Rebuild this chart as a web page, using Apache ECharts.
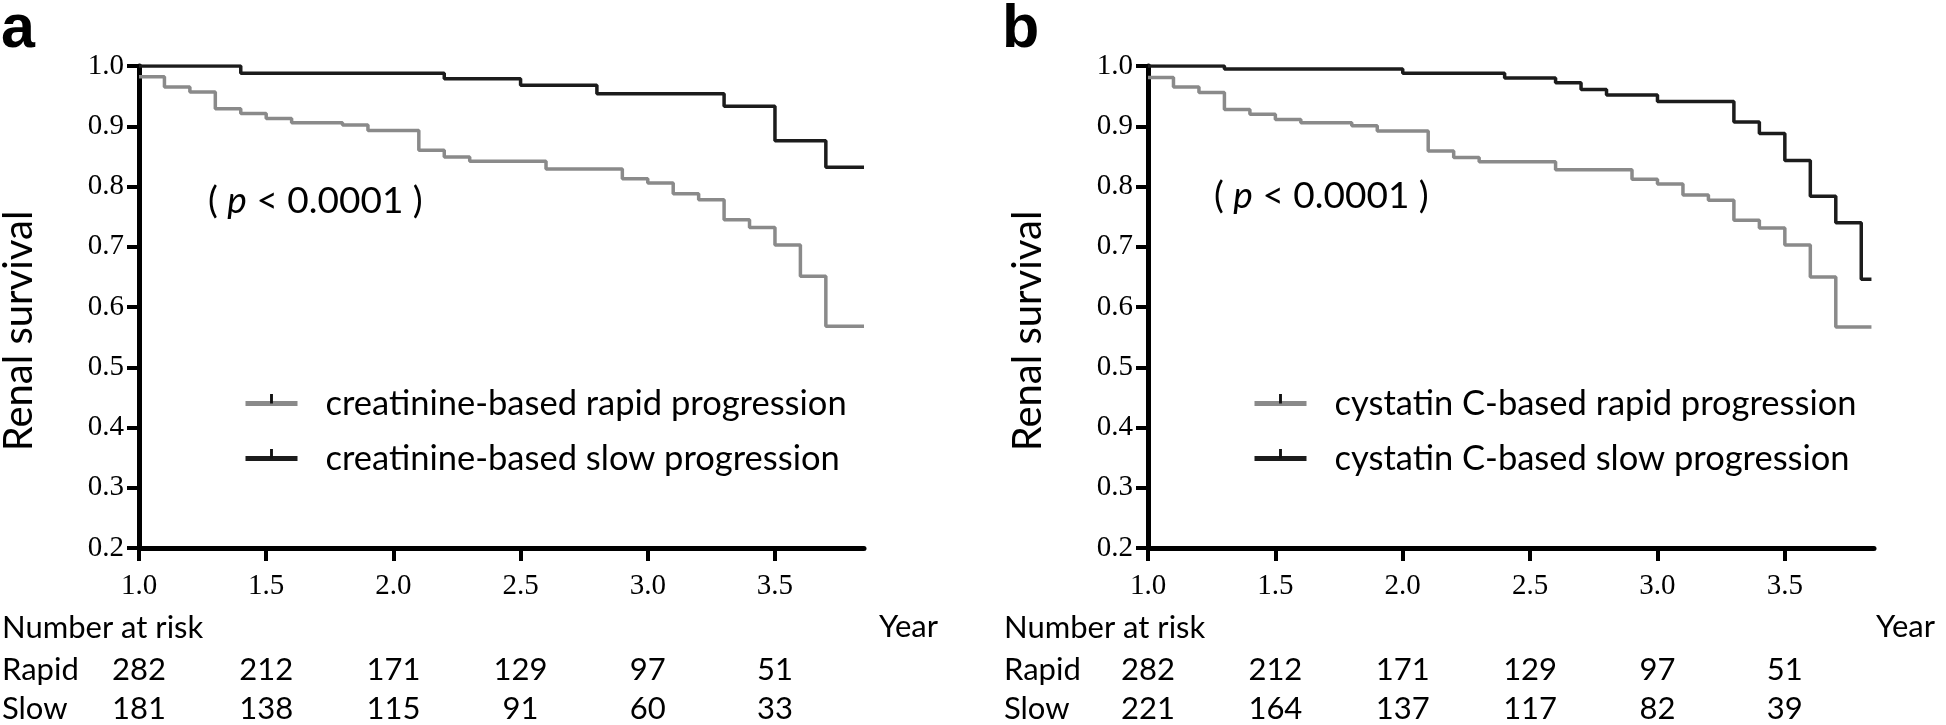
<!DOCTYPE html>
<html><head><meta charset="utf-8">
<script src="https://cdn.jsdelivr.net/npm/echarts@6/dist/echarts.min.js"></script>
<style>html,body{margin:0;padding:0;background:#fff}#c{width:1946px;height:725px}</style>
</head><body><div id="c"></div>
<script>
// ---- data ----
const xTicks = [1.0, 1.5, 2.0, 2.5, 3.0, 3.5];
const xTickLabels = ['1.0', '1.5', '2.0', '2.5', '3.0', '3.5'];

// Panel a (creatinine-based)
const rapidA_T = [1.0, 1.1, 1.2, 1.3, 1.4, 1.5, 1.6, 1.8, 1.9, 2.1, 2.2, 2.3, 2.6, 2.9, 3.0, 3.1, 3.2, 3.3, 3.4, 3.5, 3.6, 3.7, 3.85];
const rapidA_S = [0.982, 0.965, 0.957, 0.929, 0.921, 0.913, 0.906, 0.902, 0.893, 0.860, 0.849, 0.842, 0.829, 0.813, 0.806, 0.788, 0.778, 0.745, 0.732, 0.703, 0.651, 0.568, 0.568];
const slowA_T = [1.0, 1.4, 2.2, 2.5, 2.8, 3.3, 3.5, 3.7, 3.85];
const slowA_S = [1.0, 0.988, 0.979, 0.968, 0.954, 0.933, 0.876, 0.832, 0.832];

// Panel b (cystatin C-based)
const rapidB_T = [1.0, 1.1, 1.2, 1.3, 1.4, 1.5, 1.6, 1.8, 1.9, 2.1, 2.2, 2.3, 2.6, 2.9, 3.0, 3.1, 3.2, 3.3, 3.4, 3.5, 3.6, 3.7, 3.84];
const rapidB_S = [0.981, 0.965, 0.956, 0.928, 0.920, 0.911, 0.906, 0.901, 0.892, 0.859, 0.848, 0.841, 0.828, 0.812, 0.804, 0.786, 0.777, 0.744, 0.731, 0.703, 0.650, 0.567, 0.567];
const slowB_T = [1.0, 1.3, 2.0, 2.4, 2.6, 2.7, 2.8, 3.0, 3.3, 3.4, 3.5, 3.6, 3.7, 3.8, 3.84];
const slowB_S = [1.0, 0.995, 0.988, 0.980, 0.972, 0.961, 0.952, 0.941, 0.907, 0.888, 0.843, 0.784, 0.740, 0.646, 0.646];

// Number at risk
const riskRapidA = [282, 212, 171, 129, 97, 51];
const riskSlowA = [181, 138, 115, 91, 60, 33];
const riskRapidB = [282, 212, 171, 129, 97, 51];
const riskSlowB = [221, 164, 137, 117, 82, 39];

const namesA = ['creatinine-based rapid progression', 'creatinine-based slow progression'];
const namesB = ['cystatin C-based rapid progression', 'cystatin C-based slow progression'];

// ---- styling ----
const GRAY = '#8a8a8a', DARK = '#1c1c1c';
const SERIF = 'Liberation Serif';
const SANS = 'Lato';
const XMIN = 1, XMAX = 3.85;
const tickSym = 'path://M8.5,0 L11.5,0 L11.5,10 L8.5,10 Z M0,20 L0.01,20 L0.01,20.01 L0,20.01 Z M19.99,20 L20,20 L20,20.01 L19.99,20.01 Z';

const panels = [
  {left: 139, width: 725, legendLeft: 243, pY: 205, pX: 208, letter: 'a', letterX: 1, labelX: 2, yearX: 879, titleX: 19,
   rapidT: rapidA_T, rapidS: rapidA_S, slowT: slowA_T, slowS: slowA_S, riskR: riskRapidA, riskS: riskSlowA, names: namesA},
  {left: 1148, width: 726, legendLeft: 1252, pY: 200, pX: 1214, letter: 'b', letterX: 1002, labelX: 1004, yearX: 1876, titleX: 1028,
   rapidT: rapidB_T, rapidS: rapidB_S, slowT: slowB_T, slowS: slowB_S, riskR: riskRapidB, riskS: riskSlowB, names: namesB}
];

const grid = [], xAxis = [], yAxis = [], series = [], legend = [], graphic = [];
const tickIdx = v => Math.round((v - XMIN) / 0.5);

panels.forEach((p, gi) => {
  grid.push({left: p.left, top: 66, width: p.width, height: 482, containLabel: false});
  const base = {gridIndex: gi, type: 'value', min: XMIN, max: XMAX, interval: 0.5, splitLine: {show: false}};
  const mainX = xAxis.length;
  xAxis.push(Object.assign({}, base, {
    position: 'bottom',
    axisLine: {show: true, onZero: false, lineStyle: {color: '#000', width: 5}},
    axisTick: {show: true, customValues: xTicks, length: 13, lineStyle: {color: '#000', width: 4}},
    axisLabel: {customValues: xTicks, formatter: v => xTickLabels[tickIdx(v)], fontFamily: SERIF, fontSize: 29,
      color: '#000', margin: 38, verticalAlign: 'middle'}
  }));
  [[p.riskR, 122], [p.riskS, 161]].forEach(([arr, off]) => {
    xAxis.push(Object.assign({}, base, {
      position: 'bottom', offset: off,
      axisLine: {show: false}, axisTick: {show: false},
      axisLabel: {customValues: xTicks, formatter: v => String(arr[tickIdx(v)]), fontFamily: SANS, fontSize: 31,
        color: '#000', margin: 0, verticalAlign: 'middle'}
    }));
  });
  const yi = yAxis.length;
  yAxis.push({
    gridIndex: gi, type: 'value', min: 0.2, max: 1.0, interval: 0.1, splitLine: {show: false},
    axisLine: {show: true, onZero: false, lineStyle: {color: '#000', width: 5}},
    axisTick: {show: true, length: 12, lineStyle: {color: '#000', width: 4}},
    axisLabel: {formatter: v => v.toFixed(1), fontFamily: SERIF, fontSize: 29, color: '#000', margin: 15}
  });
  const mk = (T, S) => T.map((t, i) => [t, S[i]]);
  series.push({
    name: p.names[0], type: 'line', step: 'end', xAxisIndex: mainX, yAxisIndex: yi,
    data: mk(p.rapidT, p.rapidS), showSymbol: false, symbol: tickSym,
    lineStyle: {color: GRAY, width: 3.5}, itemStyle: {color: '#111'}, z: 3
  });
  series.push({
    name: p.names[1], type: 'line', step: 'end', xAxisIndex: mainX, yAxisIndex: yi,
    data: mk(p.slowT, p.slowS), showSymbol: false, symbol: tickSym,
    lineStyle: {color: DARK, width: 3.5}, itemStyle: {color: '#111'}, z: 4
  });
  [[p.names[0], 386], [p.names[1], 441]].forEach(([nm, top]) => {
    legend.push({
      data: [nm], left: p.legendLeft, top: top, padding: 0, orient: 'vertical',
      itemWidth: 52, itemHeight: 24, selectedMode: false,
      lineStyle: {width: 5},
      textStyle: {fontFamily: SANS, fontSize: 34.5, color: '#000', lineHeight: 34, padding: [0, 0, 0, 23]}
    });
  });
  graphic.push({
    type: 'text', left: p.pX, top: p.pY - 22,
    style: {
      text: '{n|( }{i|p}{n| < 0.0001 )}',
      rich: {n: {fontFamily: SANS, fontSize: 37, fill: '#000'}, i: {fontFamily: SANS, fontSize: 37, fontStyle: 'italic', fill: '#000'}}
    }
  });
  graphic.push({type: 'text', x: p.titleX, y: 331, rotation: Math.PI / 2,
    style: {text: 'Renal survival', font: '40px Lato', fill: '#000', align: 'center', verticalAlign: 'middle'}});
  graphic.push({type: 'text', x: p.letterX, y: 0, style: {text: p.letter, font: 'bold 61px "Liberation Sans"', fill: '#000', verticalAlign: 'top'}});
  graphic.push({type: 'text', x: p.labelX, y: 628, style: {text: 'Number at risk', font: '31px Lato', fill: '#000', verticalAlign: 'middle'}});
  graphic.push({type: 'text', x: p.labelX, y: 670, style: {text: 'Rapid', font: '31px Lato', fill: '#000', verticalAlign: 'middle'}});
  graphic.push({type: 'text', x: p.labelX, y: 709, style: {text: 'Slow', font: '31px Lato', fill: '#000', verticalAlign: 'middle'}});
  graphic.push({type: 'text', x: p.yearX, y: 627, style: {text: 'Year', font: '31px Lato', fill: '#000', verticalAlign: 'middle'}});
});

const chart = echarts.init(document.getElementById('c'), null, {renderer: 'canvas'});
chart.setOption({
  backgroundColor: '#fff',
  animation: false,
  grid, xAxis, yAxis, series, legend, graphic
});
</script>
</body></html>
